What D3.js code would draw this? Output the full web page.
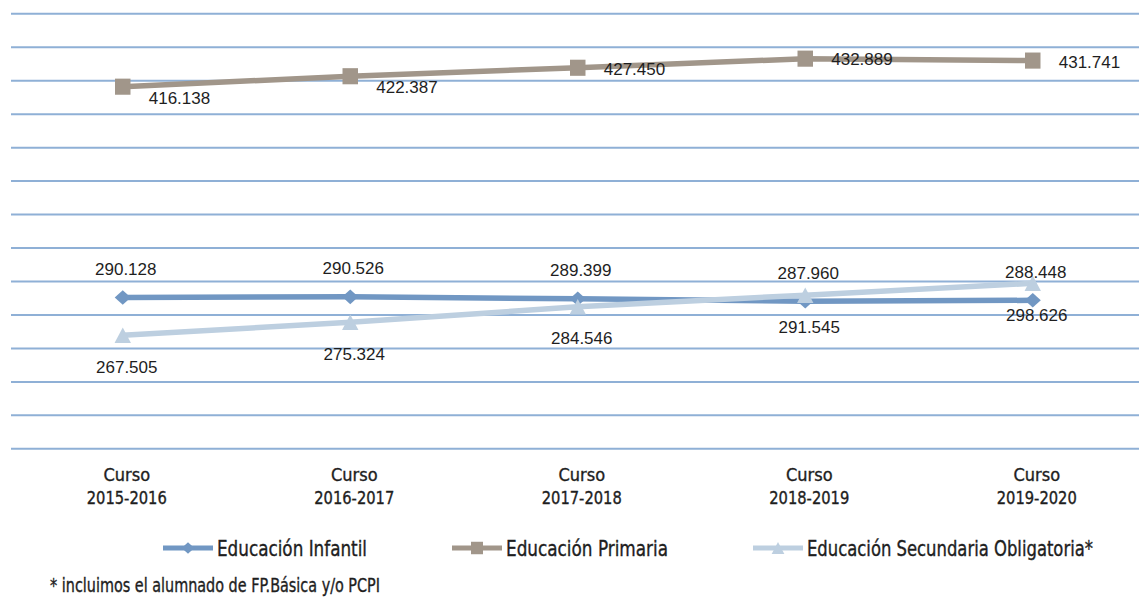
<!DOCTYPE html>
<html>
<head>
<meta charset="utf-8">
<script src="https://cdn.jsdelivr.net/npm/d3@7"></script>
<style>
  html, body { margin: 0; padding: 0; background: #ffffff; }
  svg { display: block; }
  .narrow { font-family: 'Liberation Sans Narrow', 'Arial Narrow', 'DejaVu Sans Condensed', sans-serif; font-stretch: condensed; fill: #1e1e1e; stroke: #1e1e1e; stroke-width: 0.35px; }
  .val { font-family: 'Liberation Sans', Arial, sans-serif; font-size: 17px; fill: #1e1e1e; }
</style>
</head>
<body>
<svg id="chart" width="1139" height="598"></svg>
<script>
// ---------------- data ----------------
const courses = ["2015-2016", "2016-2017", "2017-2018", "2018-2019", "2019-2020"];
const courseWord = "Curso";
const seriesNames = ["Educación Infantil", "Educación Primaria", "Educación Secundaria Obligatoria*"];
const infantil   = [290128, 290526, 289399, 287960, 288448];
const primaria   = [416138, 422387, 427450, 432889, 431741];
const secundaria = [267505, 275324, 284546, 291545, 298626];
const yTickValues = d3.range(200000, 460001, 20000);
const footnote = "* incluimos el alumnado de FP.Básica y/o PCPI";

// ---------------- layout ----------------
const plot = { left: 11, right: 1139, top: 13.3, bottom: 448.3 };
const colors = ["#7197c3", "#a1968a", "#bdcfe0"];
const gridColor = "#8fb0d6";

const svg = d3.select("#chart");
const es = d3.formatLocale({ decimal: ",", thousands: ".", grouping: [3], currency: ["", " €"] });
const fmt = es.format(",.0f");

const x = d3.scaleBand().domain(courses).range([9, 1146.5]).padding(0);
const cx = d => x(d) + x.bandwidth() / 2;
const y = d3.scaleLinear().domain([200000, 460000]).range([plot.bottom, plot.top]);

// gridlines (value axis without labels)
const grid = svg.append("g").attr("transform", `translate(${plot.left},0)`)
  .call(d3.axisLeft(y).tickValues(yTickValues).tickSize(-(plot.right - plot.left)).tickFormat(""));
grid.select(".domain").remove();
grid.selectAll(".tick line").attr("stroke", gridColor).attr("stroke-width", 2);

// category axis labels
const xAxis = svg.append("g").attr("transform", `translate(4,${plot.bottom})`)
  .call(d3.axisBottom(x).tickSize(0).tickFormat(""));
xAxis.select(".domain").remove();
xAxis.selectAll(".tick").each(function(d) {
  const t = d3.select(this).append("text").attr("class", "narrow")
    .attr("text-anchor", "middle").style("font-size", "18px");
  t.append("tspan").attr("x", 0).attr("y", 33).text(courseWord);
  t.append("tspan").attr("x", 0).attr("y", 56).attr("textLength", 80).attr("lengthAdjust", "spacingAndGlyphs").text(d);
});

// symbols
const diamond = { draw(ctx, s) { const w = s * 0.52, h = s * 0.47; ctx.moveTo(0, -h); ctx.lineTo(w, 0); ctx.lineTo(0, h); ctx.lineTo(-w, 0); ctx.closePath(); } };
const square  = { draw(ctx, s) { const w = s * 0.5, h = s * 0.52; ctx.rect(-w, -h, 2 * w, 2 * h); } };
const triangle= { draw(ctx, s) { const w = s * 0.53, h = s * 0.5; ctx.moveTo(0, -h); ctx.lineTo(w, h); ctx.lineTo(-w, h); ctx.closePath(); } };
const symbols = [diamond, square, triangle];

const series = [infantil, primaria, secundaria];
const line = d3.line().x((d, i) => cx(courses[i])).y(d => y(d));

series.forEach((vals, si) => {
  const g = svg.append("g");
  g.append("path").datum(vals).attr("d", line).attr("fill", "none")
    .attr("stroke", colors[si]).attr("stroke-width", 5.5).attr("stroke-linejoin", "round");
  g.selectAll("path.m").data(vals).join("path").attr("class", "m")
    .attr("transform", (d, i) => `translate(${cx(courses[i])},${y(d)})`)
    .attr("d", d3.symbol(symbols[si], 15.5)).attr("fill", colors[si]);
});

// data labels
const primariaDy = [11, 11, 1, 0, 1];
svg.append("g").selectAll("text").data(infantil).join("text").attr("class", "val")
  .attr("text-anchor", "middle")
  .attr("x", (d, i) => cx(courses[i]) + 3).attr("y", d => y(d) - 22.5).text(d => fmt(d));
svg.append("g").selectAll("text").data(secundaria).join("text").attr("class", "val")
  .attr("text-anchor", "middle")
  .attr("x", (d, i) => cx(courses[i]) + 4).attr("y", d => y(d) + 37.5).text(d => fmt(d));
svg.append("g").selectAll("text").data(primaria).join("text").attr("class", "val")
  .attr("text-anchor", "start")
  .attr("x", (d, i) => cx(courses[i]) + 26).attr("y", (d, i) => y(d) + primariaDy[i] + 6).text(d => fmt(d));

// legend
const legendX = [163, 452, 753];
const legendW = [150, 162, 286];
const legendY = 548;
const leg = svg.append("g");
seriesNames.forEach((name, si) => {
  const g = leg.append("g").attr("transform", `translate(${legendX[si]},${legendY})`);
  g.append("line").attr("x1", 0).attr("x2", 50).attr("y1", 0).attr("y2", 0)
    .attr("stroke", colors[si]).attr("stroke-width", 5);
  g.append("path").attr("transform", "translate(25,0)").attr("d", d3.symbol(symbols[si], 12)).attr("fill", colors[si]);
  g.append("text").attr("class", "narrow").attr("x", 54).attr("y", 8)
    .style("font-size", "21px").attr("textLength", legendW[si]).attr("lengthAdjust", "spacingAndGlyphs")
    .text(name);
});

// footnote
svg.append("text").attr("class", "narrow").attr("x", 50).attr("y", 592)
  .style("font-size", "19px").attr("textLength", 330).attr("lengthAdjust", "spacingAndGlyphs")
  .text(footnote);
</script>
</body>
</html>
